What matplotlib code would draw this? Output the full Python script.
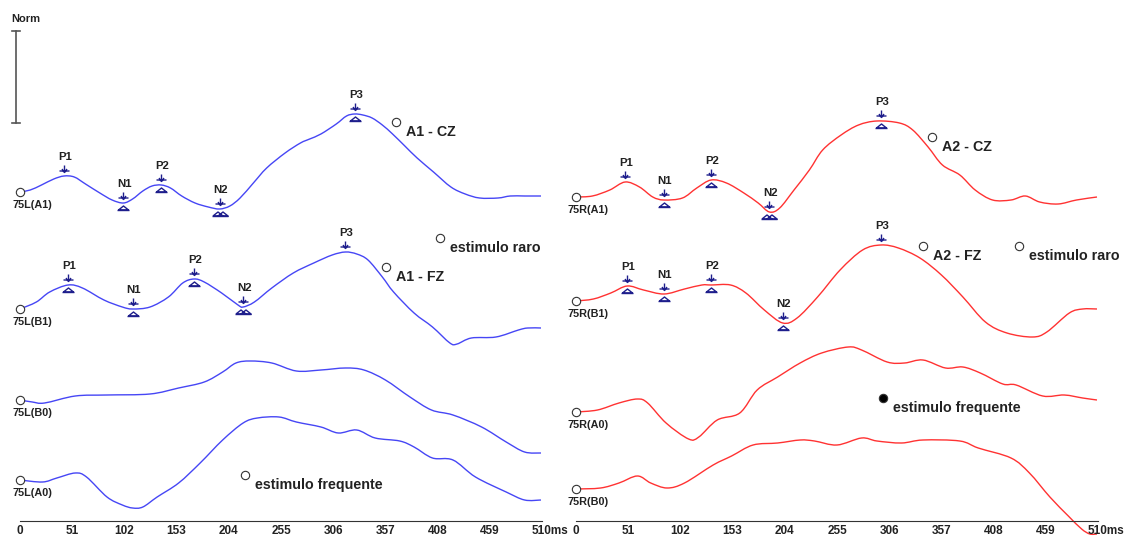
import numpy as np
import matplotlib
matplotlib.use("Agg")
import matplotlib.pyplot as plt
from matplotlib.path import Path
from matplotlib.patches import PathPatch

W, H, DPI = 1129, 538, 100

# latency axis, ms
ticks = [0, 51, 102, 153, 204, 255, 306, 357, 408, 459, 510]

# ---- left ear, 75 dB (blue) ----
t_75L_A1 = [0, 10, 21, 33, 43, 53, 64, 78, 90, 101, 110, 120, 129, 138, 147, 158, 171, 184, 195, 205,
            215, 228, 241, 259, 274, 283, 294, 309, 319, 327, 335, 344, 354, 364, 376, 388, 404, 421,
            435, 449, 467, 479, 493, 509]
v_75L_A1 = [0, 2, 7, 13, 16, 15, 8, -1, -8, -11, -7, 1, 6, 7, 4, -4, -11, -15, -17, -14,
            -6, 9, 24, 39, 49, 53, 58, 68, 76, 78, 77, 74, 67, 58, 46, 34, 20, 5,
            -2, -6, -6, -4, -4, -4]
peaks_75L_A1 = [("P1", 43), ("N1", 101), ("P2", 138), ("N2", 195), ("P3", 327)]

t_75L_B1 = [0, 16, 29, 47, 61, 82, 100, 110, 127, 145, 159, 170, 180, 197, 213, 218, 229, 246, 267, 287,
            305, 318, 329, 340, 354, 365, 385, 403, 420, 427, 441, 465, 487, 496, 509]
v_75L_B1 = [0, 7, 17, 24, 21, 9, 2, 0, 2, 12, 26, 30, 27, 16, 4, 2, 7, 21, 36, 46,
            54, 57, 55, 49, 32, 17, -4, -18, -34, -35, -29, -28, -21, -19, -19]
peaks_75L_B1 = [("P1", 47), ("N1", 110), ("P2", 170), ("N2", 218), ("P3", 318)]

t_75L_B0 = [0, 12, 24, 54, 85, 127, 155, 180, 198, 211, 225, 246, 270, 294, 318, 336, 357, 381, 402, 423,
            451, 475, 493, 509]
v_75L_B0 = [0, -2, -3, 4, 5, 6, 12, 18, 28, 37, 39, 37, 29, 30, 32, 30, 20, 3, -10, -15,
            -27, -42, -52, -53]

t_75L_A0 = [0, 22, 36, 54, 65, 85, 100, 110, 120, 134, 155, 176, 198, 218, 232, 253, 270, 294, 311, 329,
            347, 371, 385, 403, 423, 445, 475, 493, 509]
v_75L_A0 = [0, -2, 2, 7, 3, -17, -25, -28, -27, -17, -3, 17, 40, 57, 62, 63, 58, 53, 47, 50,
            42, 39, 33, 22, 20, 3, -12, -20, -20]

# ---- right ear, 75 dB (red) ----
t_75R_A1 = [0, 16, 33, 48, 62, 75, 86, 104, 118, 132, 147, 164, 178, 189, 199, 213, 228, 241, 259, 276,
            294, 316, 329, 344, 358, 375, 390, 407, 425, 439, 453, 471, 489, 509]
v_75R_A1 = [0, 1, 7, 15, 10, 0, -3, -1, 9, 17, 14, 4, -6, -15, -11, 7, 27, 47, 62, 72,
            76, 74, 67, 50, 32, 22, 7, -3, -3, 1, -5, -7, -3, 0]
peaks_75R_A1 = [("P1", 48), ("N1", 86), ("P2", 132), ("N2", 189), ("P3", 298)]

t_75R_B1 = [0, 17, 34, 50, 66, 86, 106, 123, 132, 151, 166, 184, 202, 216, 236, 258, 280, 298, 315, 336,
            357, 378, 400, 421, 446, 460, 482, 495, 509]
v_75R_B1 = [0, 2, 8, 15, 11, 7, 12, 16, 16, 16, 8, -9, -22, -17, 4, 31, 51, 56, 53, 43,
            26, 4, -21, -32, -36, -31, -12, -8, -8]
peaks_75R_B1 = [("P1", 50), ("N1", 86), ("P2", 132), ("N2", 202), ("P3", 298)]

t_75R_A0 = [0, 21, 42, 60, 70, 88, 110, 120, 138, 160, 177, 197, 219, 240, 266, 279, 304, 321, 339, 361,
            378, 395, 417, 430, 456, 477, 495, 509]
v_75R_A0 = [0, 2, 9, 13, 9, -11, -27, -25, -8, -1, 22, 35, 49, 59, 65, 62, 50, 49, 52, 44,
            45, 39, 28, 27, 16, 17, 14, 12]

t_75R_B0 = [0, 24, 42, 60, 73, 89, 106, 134, 152, 173, 197, 219, 233, 255, 279, 294, 318, 339, 375, 393,
            425, 443, 463, 481, 494, 502, 509]
v_75R_B0 = [0, 1, 6, 13, 6, 1, 6, 24, 33, 44, 46, 49, 48, 44, 51, 48, 46, 49, 48, 41,
            31, 16, -8, -27, -40, -45, -45]

plt.rcParams['font.family'] = ['Liberation Sans', 'DejaVu Sans']
plt.rcParams['font.weight'] = 'bold'

BLUE = '#4646f5'
RED = '#ff3232'
NAVY = '#1e1e8c'
INK = '#222222'
PX_PER_MS = 522 / 510
AXIS_ROW = 521


def path_marker(segments):
    verts, codes = [], []
    for seg in segments:
        verts += seg
        codes += [Path.MOVETO] + [Path.LINETO] * (len(seg) - 1)
    path = Path(verts, codes)
    size = 2 * np.abs(path.vertices).max() * 72 / DPI
    return path, size


def triangle(dx):
    return [(dx - 5, -6.5), (dx + 5, -6.5), (dx, -2.5), (dx - 5, -6.5)]


arrow_mk = path_marker([[(0, 11), (0, 4)], [(-2.5, 7.5), (0, 4), (2.5, 7.5)], [(-5, 5.5), (5, 5.5)]])
tri_mk = {
    1: path_marker([triangle(0), [(-6, -7), (6, -7)]]),
    2: path_marker([triangle(-2.5), triangle(2.5), [(-8, -7), (8, -7)]]),
}


def smooth_path(x, y):
    # cubic Bezier segments through the samples (Catmull-Rom tangents)
    p = np.column_stack([x, y]).astype(float)
    ext = np.vstack([p[0], p, p[-1]])
    verts, codes = [p[0]], [Path.MOVETO]
    for i in range(len(p) - 1):
        p0, p1, p2, p3 = ext[i], ext[i + 1], ext[i + 2], ext[i + 3]
        verts += [p1 + (p2 - p0) / 6, p2 - (p3 - p1) / 6, p2]
        codes += [Path.CURVE4] * 3
    return Path(verts, codes)


fig = plt.figure(figsize=(W / DPI, H / DPI), dpi=DPI)

# overlay in pixel units for scale bar and notes
ov = fig.add_axes([0, 0, 1, 1])
ov.set_xlim(0, W)
ov.set_ylim(H, 0)
ov.axis('off')


def panel_axes(x0, x1, zero):
    ax = fig.add_axes([x0 / W, 0, (x1 - x0) / W, 1])
    ax.set_xlim((x0 - zero) / PX_PER_MS, (x1 - zero) / PX_PER_MS)
    ax.set_ylim(0, H)
    ax.patch.set_visible(False)
    for s in ('top', 'left', 'right'):
        ax.spines[s].set_visible(False)
    ax.spines['bottom'].set_position(('data', H - AXIS_ROW))
    ax.spines['bottom'].set_bounds(0, 510)
    ax.spines['bottom'].set_color('#333333')
    ax.set_yticks([])
    ax.set_xticks(ticks)
    # last tick carries the unit, drawn separately below
    ax.set_xticklabels([str(t) for t in ticks[:-1]] + [""])
    ax.set_xticks([0, 510], minor=True)
    ax.tick_params(axis='x', which='major', length=0, pad=3, labelsize=8.5, labelcolor=INK)
    ax.tick_params(axis='x', which='minor', length=4, direction='in', color='#333333')
    ax.annotate(f"{ticks[-1]}ms", xy=(ticks[-1], H - AXIS_ROW), xytext=(-10, -3 * DPI / 72),
                textcoords='offset pixels', ha='left', va='top', fontsize=8.5, color=INK,
                annotation_clip=False)
    return ax


def draw_trace(ax, name, t, v, row, color, peaks=(), tris=()):
    base = H - row
    y = base + np.asarray(v, float)
    ax.add_patch(PathPatch(smooth_path(t, y), fill=False, edgecolor=color, lw=1.0,
                           zorder=2, clip_on=False))
    ax.plot(0, base, 'o', ms=6, mfc='white', mec='#333333', mew=0.8, zorder=5, clip_on=False)
    ax.annotate(name, xy=(0, base), xytext=(-8, -13), textcoords='offset pixels',
                ha='left', va='center', fontsize=7.8, color=INK)
    for (lab, lat), tri in zip(peaks, tris):
        yp = base + np.interp(lat, t, v)
        path, size = arrow_mk
        ax.plot(lat, yp, marker=path, ms=size, mfc='none', mec=NAVY, mew=1.0, zorder=4, clip_on=False)
        if tri:
            path, size = tri_mk[tri]
            ax.plot(lat, yp, marker=path, ms=size, mfc='none', mec=NAVY, mew=1.0, zorder=4, clip_on=False)
        ax.annotate(lab, xy=(lat, yp), xytext=(1, 14), textcoords='offset pixels',
                    ha='center', va='bottom', fontsize=8.2, color=INK)


left = panel_axes(0, 560, 20)
right = panel_axes(556, W, 576)

draw_trace(left, "75L(A1)", t_75L_A1, v_75L_A1, 192, BLUE, peaks_75L_A1, [0, 1, 1, 2, 1])
draw_trace(left, "75L(B1)", t_75L_B1, v_75L_B1, 309, BLUE, peaks_75L_B1, [1, 1, 1, 2, 0])
draw_trace(left, "75L(B0)", t_75L_B0, v_75L_B0, 400, BLUE)
draw_trace(left, "75L(A0)", t_75L_A0, v_75L_A0, 480, BLUE)

draw_trace(right, "75R(A1)", t_75R_A1, v_75R_A1, 197, RED, peaks_75R_A1, [0, 1, 1, 2, 1])
draw_trace(right, "75R(B1)", t_75R_B1, v_75R_B1, 301, RED, peaks_75R_B1, [1, 1, 1, 1, 0])
draw_trace(right, "75R(A0)", t_75R_A0, v_75R_A0, 412, RED)
draw_trace(right, "75R(B0)", t_75R_B0, v_75R_B0, 489, RED)

# amplitude scale bar
ov.plot([15.5, 15.5], [30.5, 122.5], color='#555555', lw=1.2)
ov.plot([12, 20], [30.5, 30.5], color='#555555', lw=1.2)
ov.plot([12, 20], [122.5, 122.5], color='#555555', lw=1.2)
ov.text(11, 19, "Norm", ha='left', va='center', fontsize=8, color=INK)

# notes
notes = [
    ("A1 - CZ", 396, 122, False),
    ("estimulo raro", 440, 238, False),
    ("A1 - FZ", 386, 267, False),
    ("estimulo frequente", 245, 475, False),
    ("A2 - CZ", 932, 137, False),
    ("A2 - FZ", 923, 246, False),
    ("estimulo raro", 1019, 246, False),
    ("estimulo frequente", 883, 398, True),
]
for txt, x, y, filled in notes:
    ov.plot(x, y, 'o', ms=6, mfc='black' if filled else 'white', mec='#333333', mew=0.8)
    ov.text(x + 10, y + 10, txt, ha='left', va='center', fontsize=10.3, color=INK)

fig.savefig("out.png", dpi=DPI)
